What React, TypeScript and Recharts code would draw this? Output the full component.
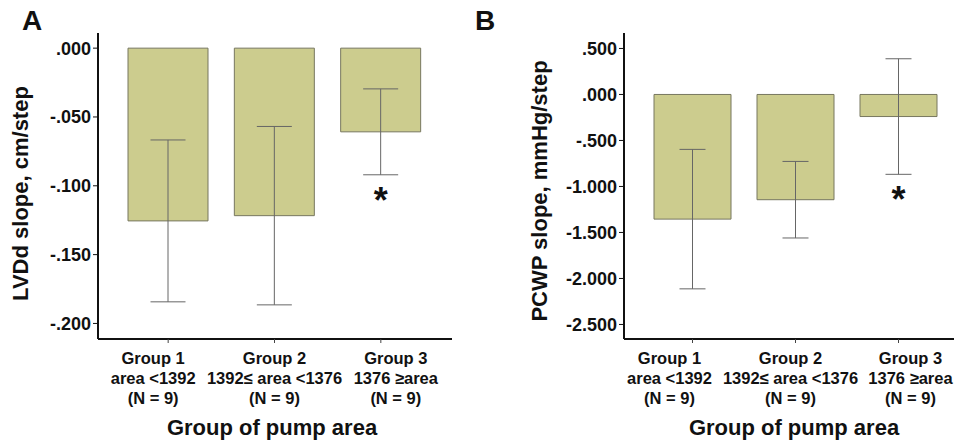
import { BarChart, Bar, XAxis, YAxis, ErrorBar, ReferenceDot, Customized } from 'recharts';

const groups = ['Group 1', 'Group 2', 'Group 3'];
const ranges = ['area <1392', '1392\u2264 area <1376', '1376 \u2265area'];
const counts = ['(N = 9)', '(N = 9)', '(N = 9)'];

const lvddMean = [-0.1255, -0.1217, -0.0608];
const lvddErr = [0.0588, 0.0648, 0.0312];
const lvddTicks = [0, -0.05, -0.1, -0.15, -0.2];

const pcwpMean = [-1.355, -1.144, -0.24];
const pcwpErr = [0.758, 0.416, 0.628];
const pcwpTicks = [0.5, 0, -0.5, -1, -1.5, -2, -2.5];

// asterisk marks (group 3 differs), placed in data units
const lvddStar = -0.105;
const pcwpStar = -1.061;

const lvddData = groups.map((g, i) => ({ name: g, mean: lvddMean[i], err: lvddErr[i] }));
const pcwpData = groups.map((g, i) => ({ name: g, mean: pcwpMean[i], err: pcwpErr[i] }));

const FONT = '"Liberation Sans", Arial, Helvetica, sans-serif';
const BAR_FILL = '#cccc8e';
const BAR_STROKE = '#77775f';
const ERR_STROKE = '#666';

// "0.500" -> ".500", "-0.050" -> "-.050"
const fmt = (v: number) => v.toFixed(3).replace(/^(-?)0\./, '$1.');

function GroupTick(props: any) {
  const { x, y, payload, index, shifts } = props;
  const i = index ?? groups.indexOf(payload.value);
  const cx = x + (shifts?.[i] ?? 0);
  return (
    <text x={cx} y={y} textAnchor="middle" fontFamily={FONT} fontWeight="bold" fontSize={16.5} fill="#111">
      <tspan x={cx} dy={19}>{groups[i]}</tspan>
      <tspan x={cx} dy={20}>{ranges[i]}</tspan>
      <tspan x={cx} dy={20}>{counts[i]}</tspan>
    </text>
  );
}

function Star(props: any) {
  return (
    <text x={props.cx} y={props.cy} dy="0.56em" textAnchor="middle" fontFamily={FONT} fontWeight="bold" fontSize={36} fill="#111">
      *
    </text>
  );
}

function yLabel(text: string, xPos: number, shift: number) {
  return (p: any) => {
    const vb = p.viewBox;
    const cy = vb.y + vb.height / 2 + shift;
    return (
      <text
        x={xPos}
        y={cy}
        transform={`rotate(-90 ${xPos} ${cy})`}
        dy="0.355em"
        textAnchor="middle"
        fontFamily={FONT}
        fontWeight="bold"
        fontSize={22}
        fill="#111"
      >
        {text}
      </text>
    );
  };
}

function xLabel(shift: number) {
  return (p: any) => {
    const vb = p.viewBox;
    return (
      <text x={vb.x + vb.width / 2 + shift} y={435} textAnchor="middle" fontFamily={FONT} fontWeight="bold" fontSize={22} fill="#111">
        Group of pump area
      </text>
    );
  };
}

function Panel(props: any) {
  const { letter, letterX, data, domain, ticks, yWidth, width, marginRight, barSize, capWidth, shifts, yTitle, yTitleX, yTitleShift, xTitleShift, star } = props;
  return (
    <BarChart width={width} height={440} data={data} margin={{ top: 33, right: marginRight, bottom: 0, left: 0 }}>
      <XAxis
        dataKey="name"
        interval={0}
        height={101}
        padding={{ left: 17, right: 18 }}
        axisLine={{ stroke: '#111', strokeWidth: 2 }}
        tickLine={{ stroke: '#444' }}
        tickSize={4}
        tick={<GroupTick shifts={shifts} />}
        label={{ content: xLabel(xTitleShift) }}
      />
      <YAxis
        type="number"
        domain={domain}
        ticks={ticks}
        allowDataOverflow
        width={yWidth}
        tickFormatter={fmt}
        axisLine={{ stroke: '#111', strokeWidth: 2 }}
        tickLine={{ stroke: '#111' }}
        tickSize={5}
        tick={{ fontFamily: FONT, fontWeight: 'bold', fontSize: 18, fill: '#111' }}
        label={{ content: yLabel(yTitle, yTitleX, yTitleShift) }}
      />
      <Bar dataKey="mean" fill={BAR_FILL} stroke={BAR_STROKE} strokeWidth={1} barSize={barSize} isAnimationActive={false}>
        {/* ErrorBar width is the half-width of the cap */}
        <ErrorBar dataKey="err" width={capWidth / 2} stroke={ERR_STROKE} strokeWidth={1} direction="y" />
      </Bar>
      <ReferenceDot x="Group 3" y={star} r={1} shape={<Star />} ifOverflow="visible" />
      <Customized
        component={() => (
          <text x={letterX} y={30} fontFamily={FONT} fontWeight="bold" fontSize={28} fill="#111">
            {letter}
          </text>
        )}
      />
    </BarChart>
  );
}

export default function App() {
  return (
    <div style={{ position: 'fixed', left: 0, top: 0, width: 954, height: 440, overflow: 'hidden', background: '#fff' }}>
      <div style={{ position: 'absolute', left: 0, top: 0 }}>
        <Panel
          letter="A"
          letterX={22}
          data={lvddData}
          domain={[-0.2113, 0.011]}
          ticks={lvddTicks}
          yWidth={98}
          width={480}
          marginRight={28}
          barSize={80}
          capWidth={35}
          shifts={[-15, 0, 15]}
          yTitle="LVDd slope, cm/step"
          yTitleX={20.5}
          yTitleShift={7.5}
          xTitleShift={-3}
          star={lvddStar}
        />
      </div>
      <div style={{ position: 'absolute', left: 470, top: 0 }}>
        <Panel
          letter="B"
          letterX={5}
          data={pcwpData}
          domain={[-2.658, 0.668]}
          ticks={pcwpTicks}
          yWidth={154}
          width={510}
          marginRight={12}
          barSize={77}
          capWidth={26}
          shifts={[-23, -5, 12]}
          yTitle="PCWP slope, mmHg/step"
          yTitleX={69}
          yTitleShift={5}
          xTitleShift={-2}
          star={pcwpStar}
        />
      </div>
    </div>
  );
}
